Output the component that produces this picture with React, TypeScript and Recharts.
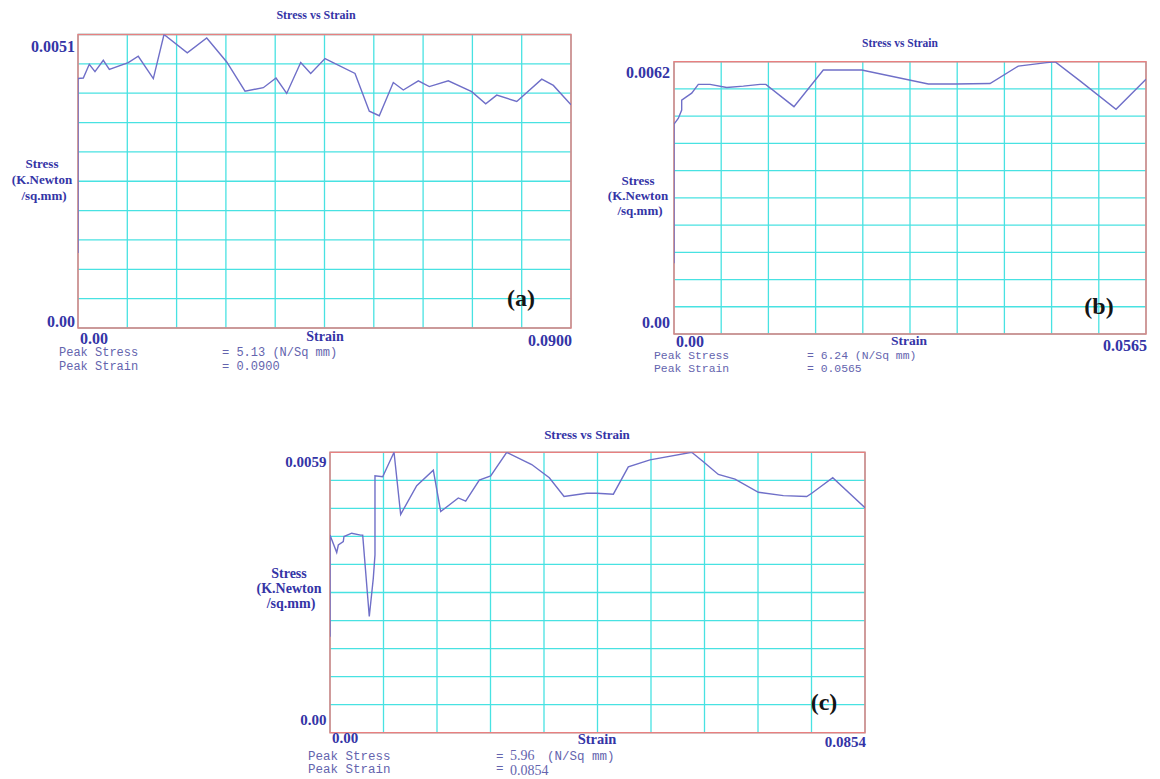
import React from "react";
import { LineChart, Line, XAxis, YAxis, CartesianGrid, ReferenceArea } from "recharts";

// ---- panel (a) ----
const strainA = [0, 0, 0.00097, 0.00206, 0.0031, 0.00462, 0.00572, 0.00918, 0.011, 0.01375, 0.0157, 0.01995, 0.0235, 0.02715, 0.03049, 0.03383, 0.03615, 0.0381, 0.04066, 0.04248, 0.04509, 0.05057, 0.05318, 0.055, 0.05756, 0.05939, 0.06213, 0.06413, 0.0676, 0.07187, 0.07443, 0.07644, 0.0801, 0.08466, 0.08678, 0.09];
const stressA = [0.00131, 0.00436, 0.00437, 0.00461, 0.00448, 0.00468, 0.00452, 0.00464, 0.00475, 0.00436, 0.00513, 0.00481, 0.00507, 0.00465, 0.00414, 0.0042, 0.00437, 0.0041, 0.00464, 0.00445, 0.00471, 0.00445, 0.00379, 0.00371, 0.00429, 0.00416, 0.00432, 0.00422, 0.00432, 0.00413, 0.00392, 0.00407, 0.00396, 0.00435, 0.00424, 0.0039];
const xLabelsA = ["0.00", "0.0900"];
const yLabelsA = ["0.00", "0.0051"];
const peakA = ["5.13", "0.0900"];

// ---- panel (b) ----
const strainB = [0, 0, 0.00051, 0.00092, 0.00092, 0.00152, 0.00212, 0.00291, 0.00431, 0.00631, 0.0083, 0.0103, 0.011, 0.01436, 0.01787, 0.02247, 0.03044, 0.03364, 0.03783, 0.04121, 0.04461, 0.04561, 0.0486, 0.05291, 0.0565];
const stressB = [0.00162, 0.00481, 0.00494, 0.00513, 0.00536, 0.00544, 0.00552, 0.00572, 0.00572, 0.00565, 0.00568, 0.00572, 0.00572, 0.00521, 0.00605, 0.00605, 0.00573, 0.00573, 0.00574, 0.00614, 0.00622, 0.00624, 0.0058, 0.00515, 0.00584];
const xLabelsB = ["0.00", "0.0565"];
const yLabelsB = ["0.00", "0.0062"];
const peakB = ["6.24", "0.0565"];

// ---- panel (c) ----
const strainC = [0, 0, 0.00107, 0.00133, 0.00212, 0.00223, 0.00346, 0.0049, 0.00522, 0.00627, 0.00691, 0.00718, 0.00718, 0.00841, 0.01022, 0.01128, 0.01384, 0.01649, 0.01767, 0.02048, 0.02166, 0.02383, 0.02565, 0.02821, 0.0322, 0.03501, 0.03736, 0.04098, 0.04257, 0.04523, 0.04762, 0.05108, 0.05774, 0.0596, 0.06199, 0.06465, 0.06838, 0.07237, 0.0761, 0.0769, 0.08025, 0.0854];
const stressC = [0.00204, 0.0042, 0.00383, 0.00399, 0.00406, 0.00417, 0.00424, 0.0042, 0.0042, 0.00247, 0.00328, 0.00378, 0.00546, 0.00544, 0.00596, 0.00464, 0.00525, 0.00558, 0.0047, 0.00499, 0.00492, 0.00537, 0.00546, 0.00596, 0.0057, 0.00542, 0.00502, 0.00509, 0.00509, 0.00507, 0.00565, 0.0058, 0.00596, 0.00576, 0.00549, 0.00539, 0.00511, 0.00504, 0.00502, 0.00509, 0.00542, 0.00478];
const xLabelsC = ["0.00", "0.0854"];
const yLabelsC = ["0.00", "0.0059"];
const peakC = ["5.96", "0.0854"];

const W = 1160;
const H = 779;
const NAVY = "#3434a6";
const GRID = "#48e2e2";
const BORDER = "#e88080";
const CURVE = "#6f6fc8";
const PEAK = "#6464ae";
const SERIF = "'Liberation Serif', 'Times New Roman', serif";
const MONO = "'Liberation Mono', 'Courier New', monospace";

const divisions = (max: number) => Array.from({ length: 11 }, (_, i) => (max * i) / 10);

interface Box { l: number; r: number; t: number; b: number; }

interface PanelProps {
  strain: number[];
  stress: number[];
  maxStrain: number;
  maxStress: number;
  box: Box;
  xLabels: string[];
  yLabels: string[];
  tickFont: number;
  xDy: [number, number];
  yDy: [number, number];
  yGap: number;
}

function Panel(p: PanelProps) {
  const rows = p.strain.map((s, i) => ({ strain: s, stress: p.stress[i] }));
  const near = (a: number, b: number) => Math.abs(a - b) < 1e-9;

  const renderX = (props: any) => {
    const v = props.payload.value;
    if (near(v, 0)) {
      return (
        <text x={props.x + 2} y={p.box.b + p.xDy[0]} textAnchor="start" dominantBaseline="central"
          fill={NAVY} fontFamily={SERIF} fontWeight="bold" fontSize={p.tickFont}>{p.xLabels[0]}</text>
      );
    }
    if (near(v, p.maxStrain)) {
      return (
        <text x={props.x + 1} y={p.box.b + p.xDy[1]} textAnchor="end" dominantBaseline="central"
          fill={NAVY} fontFamily={SERIF} fontWeight="bold" fontSize={p.tickFont}>{p.xLabels[1]}</text>
      );
    }
    return <g />;
  };

  const renderY = (props: any) => {
    const v = props.payload.value;
    if (near(v, 0) || near(v, p.maxStress)) {
      const top = near(v, p.maxStress);
      return (
        <text x={p.box.l - p.yGap} y={props.y + (top ? p.yDy[1] : p.yDy[0])} textAnchor="end" dominantBaseline="central"
          fill={NAVY} fontFamily={SERIF} fontWeight="bold" fontSize={p.tickFont}>{top ? p.yLabels[1] : p.yLabels[0]}</text>
      );
    }
    return <g />;
  };

  return (
    <div style={{ position: "absolute", left: 0, top: 0 }}>
      <LineChart width={W} height={H} data={rows}
        margin={{ top: p.box.t, right: W - p.box.r, bottom: H - p.box.b - 20, left: p.box.l - 40 }}>
        <CartesianGrid stroke={GRID} strokeWidth={1.3} />
        <XAxis type="number" dataKey="strain" domain={[0, p.maxStrain]} ticks={divisions(p.maxStrain)} interval={0}
          tick={renderX} tickLine={false} axisLine={false} tickSize={0} tickMargin={0} height={20} allowDataOverflow />
        <YAxis type="number" domain={[0, p.maxStress]} ticks={divisions(p.maxStress)} interval={0}
          tick={renderY} tickLine={false} axisLine={false} tickSize={0} tickMargin={0} width={40} allowDataOverflow />
        <ReferenceArea x1={0} x2={p.maxStrain} y1={0} y2={p.maxStress} fill="none" fillOpacity={0}
          stroke={BORDER} strokeWidth={1.5} ifOverflow="visible" />
        <Line type="linear" dataKey="stress" stroke={CURVE} strokeWidth={1.4} dot={false} isAnimationActive={false} />
      </LineChart>
    </div>
  );
}

function Txt(props: { x: number; y: number; size: number; anchor?: "start" | "middle"; mono?: boolean; color?: string; bold?: boolean; children: React.ReactNode }) {
  const { x, y, size, anchor = "middle", mono = false, color = NAVY, bold = true } = props;
  return (
    <div style={{
      position: "absolute", left: x, top: y, fontSize: size, lineHeight: 1, whiteSpace: "pre",
      transform: anchor === "middle" ? "translate(-50%, -50%)" : "translate(0, -50%)",
      fontFamily: mono ? MONO : SERIF, fontWeight: bold ? "bold" : "normal", color,
    }}>{props.children}</div>
  );
}

function YTitle(props: { x: number; y: number; size: number; step: number }) {
  return (
    <>
      <Txt x={props.x} y={props.y} size={props.size}>Stress</Txt>
      <Txt x={props.x} y={props.y + props.step} size={props.size}>(K.Newton</Txt>
      <Txt x={props.x + 2} y={props.y + props.step * 2} size={props.size}>/sq.mm)</Txt>
    </>
  );
}

function Note(props: { x: number; y: number; size: number; serif?: boolean; children: React.ReactNode }) {
  return (
    <Txt x={props.x} y={props.y} size={props.size} mono={!props.serif} bold={false} color={PEAK} anchor="start">
      {props.children}
    </Txt>
  );
}

export default function App() {
  return (
    <div style={{ position: "absolute", left: 0, top: 0, width: W, height: H, background: "#fff", overflow: "hidden" }}>
      <Panel strain={strainA} stress={stressA} maxStrain={0.09} maxStress={0.00513}
        box={{ l: 78, r: 571, t: 34.5, b: 328 }} xLabels={xLabelsA} yLabels={yLabelsA} tickFont={16}
        xDy={[10, 12]} yDy={[-7, 11.5]} yGap={3} />
      <Panel strain={strainB} stress={stressB} maxStrain={0.0565} maxStress={0.00624}
        box={{ l: 674, r: 1146, t: 61.7, b: 334 }} xLabels={xLabelsB} yLabels={yLabelsB} tickFont={16}
        xDy={[7, 11]} yDy={[-12, 10.3]} yGap={4} />
      <Panel strain={strainC} stress={stressC} maxStrain={0.0854} maxStress={0.00596}
        box={{ l: 330, r: 865, t: 452.3, b: 732.7 }} xLabels={xLabelsC} yLabels={yLabelsC} tickFont={15}
        xDy={[5, 9]} yDy={[-12.7, 9.7]} yGap={3.6} />

      {/* panel (a) texts */}
      <Txt x={316} y={15} size={12}>Stress vs Strain</Txt>
      <YTitle x={42} y={163} size={13} step={16} />
      <Txt x={325} y={337} size={14}>Strain</Txt>
      <Note x={59} y={353} size={12}>Peak Stress</Note>
      <Note x={222} y={353} size={12}>{`= ${peakA[0]} (N/Sq mm)`}</Note>
      <Note x={59} y={367} size={12}>Peak Strain</Note>
      <Note x={222} y={367} size={12}>{`= ${peakA[1]}`}</Note>
      <Txt x={521} y={298} size={24} color="#151515">(a)</Txt>

      {/* panel (b) texts */}
      <Txt x={900} y={44} size={11.5}>Stress vs Strain</Txt>
      <YTitle x={638} y={180} size={13} step={15} />
      <Txt x={909} y={341} size={13.5}>Strain</Txt>
      <Note x={654} y={357} size={11.4}>Peak Stress</Note>
      <Note x={807} y={357} size={11.4}>{`= ${peakB[0]} (N/Sq mm)`}</Note>
      <Note x={654} y={370} size={11.4}>Peak Strain</Note>
      <Note x={807} y={370} size={11.4}>{`= ${peakB[1]}`}</Note>
      <Txt x={1099} y={306} size={24} color="#151515">(b)</Txt>

      {/* panel (c) texts */}
      <Txt x={587} y={434} size={13}>Stress vs Strain</Txt>
      <YTitle x={289} y={574} size={14} step={15} />
      <Txt x={597} y={739} size={14.5}>Strain</Txt>
      <Note x={308} y={757} size={12.5}>Peak Stress</Note>
      <Note x={496} y={757} size={12.5}>=</Note>
      <Note x={510} y={756} size={14} serif>{peakC[0]}</Note>
      <Note x={547} y={757} size={12.5}>(N/Sq mm)</Note>
      <Note x={308} y={770} size={12.5}>Peak Strain</Note>
      <Note x={496} y={769} size={12.5}>=</Note>
      <Note x={510} y={771} size={14} serif>{peakC[1]}</Note>
      <Txt x={824} y={702} size={24} color="#151515">(c)</Txt>
    </div>
  );
}
